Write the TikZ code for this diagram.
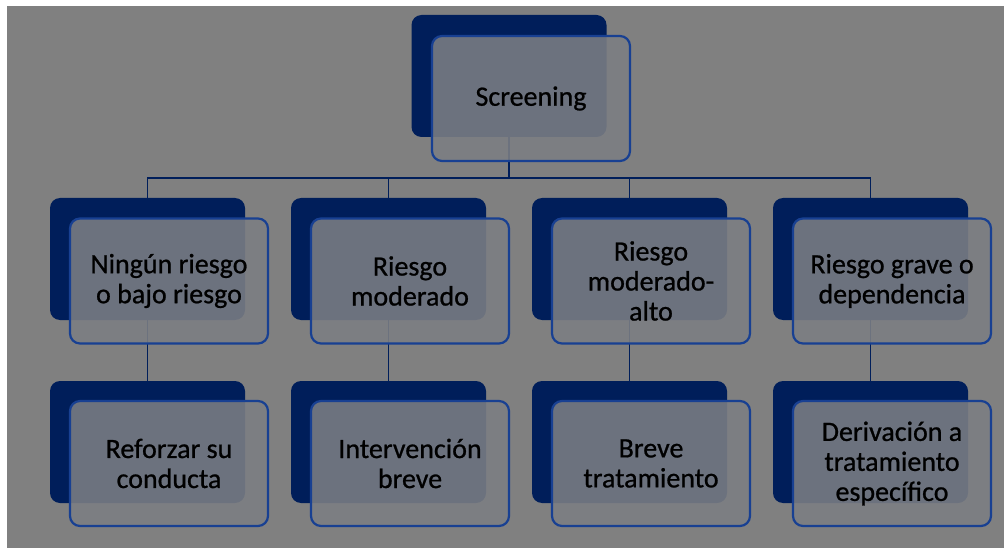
\documentclass[tikz,border=0pt]{standalone}
\usepackage{fontspec}
\setmainfont{Carlito}[UprightFeatures={FakeBold=0.8}]
\definecolor{scnavy}{RGB}{0,30,90}
\definecolor{scblue}{RGB}{24,64,146}
\definecolor{scgray}{RGB}{128,128,128}
\definecolor{scfront}{RGB}{124,126,131}
\usetikzlibrary{positioning}

\begin{document}
\begin{tikzpicture}[x=1pt,y=-1pt,font=\fontsize{28}{30}\selectfont,
  backbox/.style={fill=scnavy,rounded corners=10pt,minimum width=195pt,minimum height=122pt,inner sep=0pt},
  frontbox/.style={draw=scblue,line width=2.2pt,fill=scfront,fill opacity=0.88,text opacity=1,rounded corners=10pt,minimum width=198pt,minimum height=125pt,align=center,inner sep=0pt},
  link/.style={draw=scnavy,line width=1.8pt}]
  % page and background
  \fill[white] (0,0) rectangle (1004,548);
  \fill[scgray] (7,6) rectangle (1004,548);
  % dark boxes behind
  \node[backbox] (scrB) at (509,76) {};
  \foreach \n/\x in {1/147.5, 2/388.5, 3/629.5, 4/870.5}{
    \node[backbox] (r\n B) at (\x,259) {};
    \node[backbox] (t\n B) at (\x,442) {};
  }
  % connectors
  \foreach \n in {1,...,4}{
    \draw[link] (scrB.south) -- ++(0,41) -| (r\n B.north);
    \draw[link] (r\n B.south) -- (t\n B.north);
  }
  % front boxes with the texts
  \node[frontbox] (scr) at (531,98.5) {Screening};
  \node[frontbox] (r1) at (169,281) {Ningún riesgo\\o bajo riesgo};
  \node[frontbox] (r2) at (410,281) {Riesgo\\moderado};
  \node[frontbox] (r3) at (651,281) {Riesgo\\moderado-\\alto};
  \node[frontbox] (r4) at (892,281) {Riesgo grave o\\dependencia};
  \node[frontbox] (t1) at (169,463.5) {Reforzar su\\conducta};
  \node[frontbox] (t2) at (410,463.5) {Intervención\\breve};
  \node[frontbox] (t3) at (651,463.5) {Breve\\tratamiento};
  \node[frontbox] (t4) at (892,463.5) {Derivación a\\tratamiento\\específico};
\end{tikzpicture}
\end{document}
